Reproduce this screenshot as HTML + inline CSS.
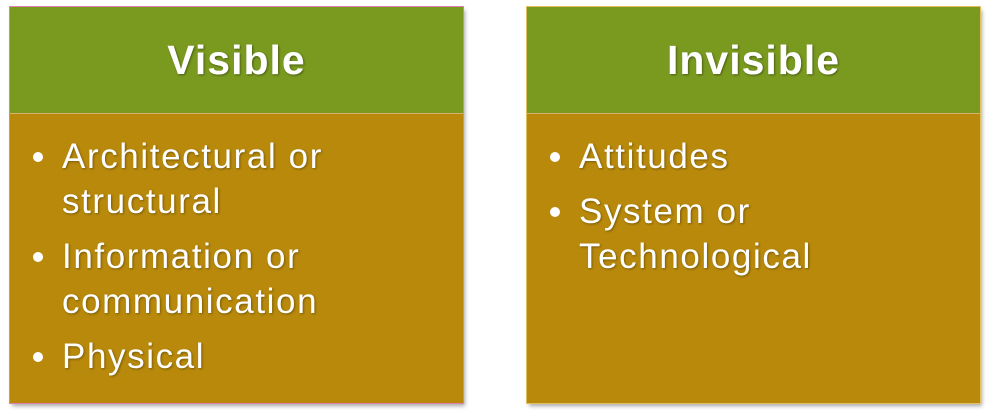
<!DOCTYPE html>
<html><head><style>
body{margin:0;width:990px;height:411px;background:#fff;position:relative;overflow:hidden;font-family:"Liberation Sans",sans-serif;color:#fff}
.box{position:absolute;top:7px;width:453px;height:396px;box-shadow:2px 3px 4px rgba(0,0,0,.35)}
.hd{position:absolute;left:0;top:0;width:453px;height:106px;background:#7a9a1f;font-weight:bold;font-size:41px;letter-spacing:1px;text-align:center;line-height:106px;text-shadow:1px 1px 2px rgba(0,0,0,.4)}
.bd{position:absolute;left:0;top:106px;width:453px;height:290px;background:#b8890b;border-top:1px solid #d8b070;box-sizing:border-box}
ul{margin:0;padding:0;list-style:none;position:absolute;left:0;top:20px}
li{position:relative;padding-left:52px;font-size:35px;letter-spacing:1.6px;line-height:45px;margin-bottom:10px;text-shadow:1px 1px 2px rgba(0,0,0,.35);white-space:nowrap}
li:before{content:"";position:absolute;left:23px;top:18px;width:10px;height:10px;border-radius:50%;background:#fff}
</style></head><body>
<div class="box" style="left:10px;outline:1px solid #e080b0">
<div class="hd">Visible</div>
<div class="bd"><ul>
<li>Architectural or<br>structural</li>
<li>Information or<br>communication</li>
<li>Physical</li>
</ul></div></div>
<div class="box" style="left:527px;outline:1px solid #e0c060">
<div class="hd">Invisible</div>
<div class="bd"><ul>
<li>Attitudes</li>
<li>System or<br>Technological</li>
</ul></div></div>
</body></html>
